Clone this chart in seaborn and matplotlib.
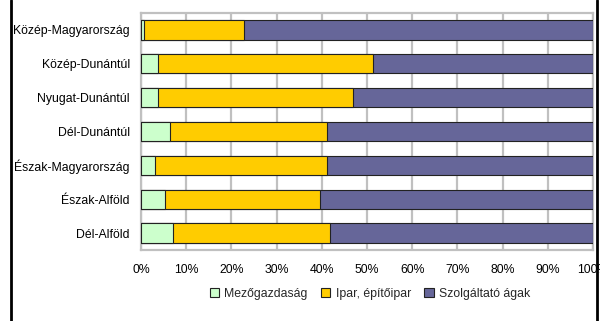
import numpy as np
import pandas as pd
import matplotlib
matplotlib.use('Agg')
import matplotlib.pyplot as plt
import seaborn as sns
from matplotlib.lines import Line2D
from matplotlib.patches import Patch

regions = ['Közép-Magyarország', 'Közép-Dunántúl', 'Nyugat-Dunántúl', 'Dél-Dunántúl',
           'Észak-Magyarország', 'Észak-Alföld', 'Dél-Alföld']
agri = [0.6, 3.7, 3.7, 6.5, 3.2, 5.2, 7.0]
industry = [22.2, 47.7, 43.3, 34.7, 38.0, 34.5, 34.8]
services = [77.2, 48.6, 53.0, 58.8, 58.8, 60.3, 58.2]
series_names = ['Mezőgazdaság', 'Ipar, építőipar', 'Szolgáltató ágak']
colors = ['#CCFFCC', '#FFCC00', '#666699']

df = pd.DataFrame({'region': regions, 'agri': agri, 'industry': industry, 'services': services})
df['c1'] = df['agri']
df['c2'] = df['agri'] + df['industry']
df['c3'] = df['c2'] + df['services']

sns.set_style('white')
plt.rcParams['font.family'] = ['Liberation Sans', 'DejaVu Sans']

fig = plt.figure(figsize=(6, 3.21), dpi=100)
ax = fig.add_axes([141 / 600, 71 / 321, 452 / 600, 237 / 321])

# stacked bars: draw cumulative totals, largest first
for col, c in zip(['c3', 'c2', 'c1'], colors[::-1]):
    sns.barplot(data=df, x=col, y='region', order=regions, color=c, saturation=1, width=0.57,
                edgecolor='#222222', linewidth=0.8, ax=ax, zorder=3)

ax.set_xlim(0, 100)
ax.set_ylim(6.5, -0.5)
ax.set_xticks(np.arange(0, 101, 10))
ax.set_xticklabels([f'{v}%' for v in range(0, 101, 10)])
ax.xaxis.grid(True, color='#C0C0C0', linewidth=1.6, zorder=0)
ax.set_axisbelow(True)
ax.set_xlabel('')
ax.set_ylabel('')

for s in ax.spines.values():
    s.set_color('#C0C0C0')
    s.set_linewidth(1.6)

ax.set_yticks(range(len(regions)))
ax.set_yticks(np.arange(-0.5, 7, 1), minor=True)
ax.tick_params(axis='y', which='major', length=0, pad=8, labelsize=8.8, colors='black')
ax.tick_params(axis='y', which='minor', length=4, width=1.6, color='#C0C0C0', direction='out')
ax.tick_params(axis='x', which='major', length=4, width=1.6, color='#C0C0C0', direction='out',
               labelsize=8.8, pad=6, labelcolor='black')

handles = [Patch(facecolor=c, edgecolor='#222222', linewidth=0.8, label=n)
           for c, n in zip(colors, series_names)]
fig.legend(handles=handles, loc='center', bbox_to_anchor=(370 / 600, 1 - 294 / 321),
           ncol=3, frameon=False, fontsize=8.8, handlelength=0.75, handleheight=0.75,
           handletextpad=0.45, columnspacing=1.1)

# black frame lines of the cropped chart area
fig.add_artist(Line2D([11 / 600, 11 / 600], [0, 1], color='black', linewidth=2))
fig.add_artist(Line2D([597 / 600, 597 / 600], [0, 1], color='black', linewidth=2))

fig.savefig('out.png', dpi=100)
